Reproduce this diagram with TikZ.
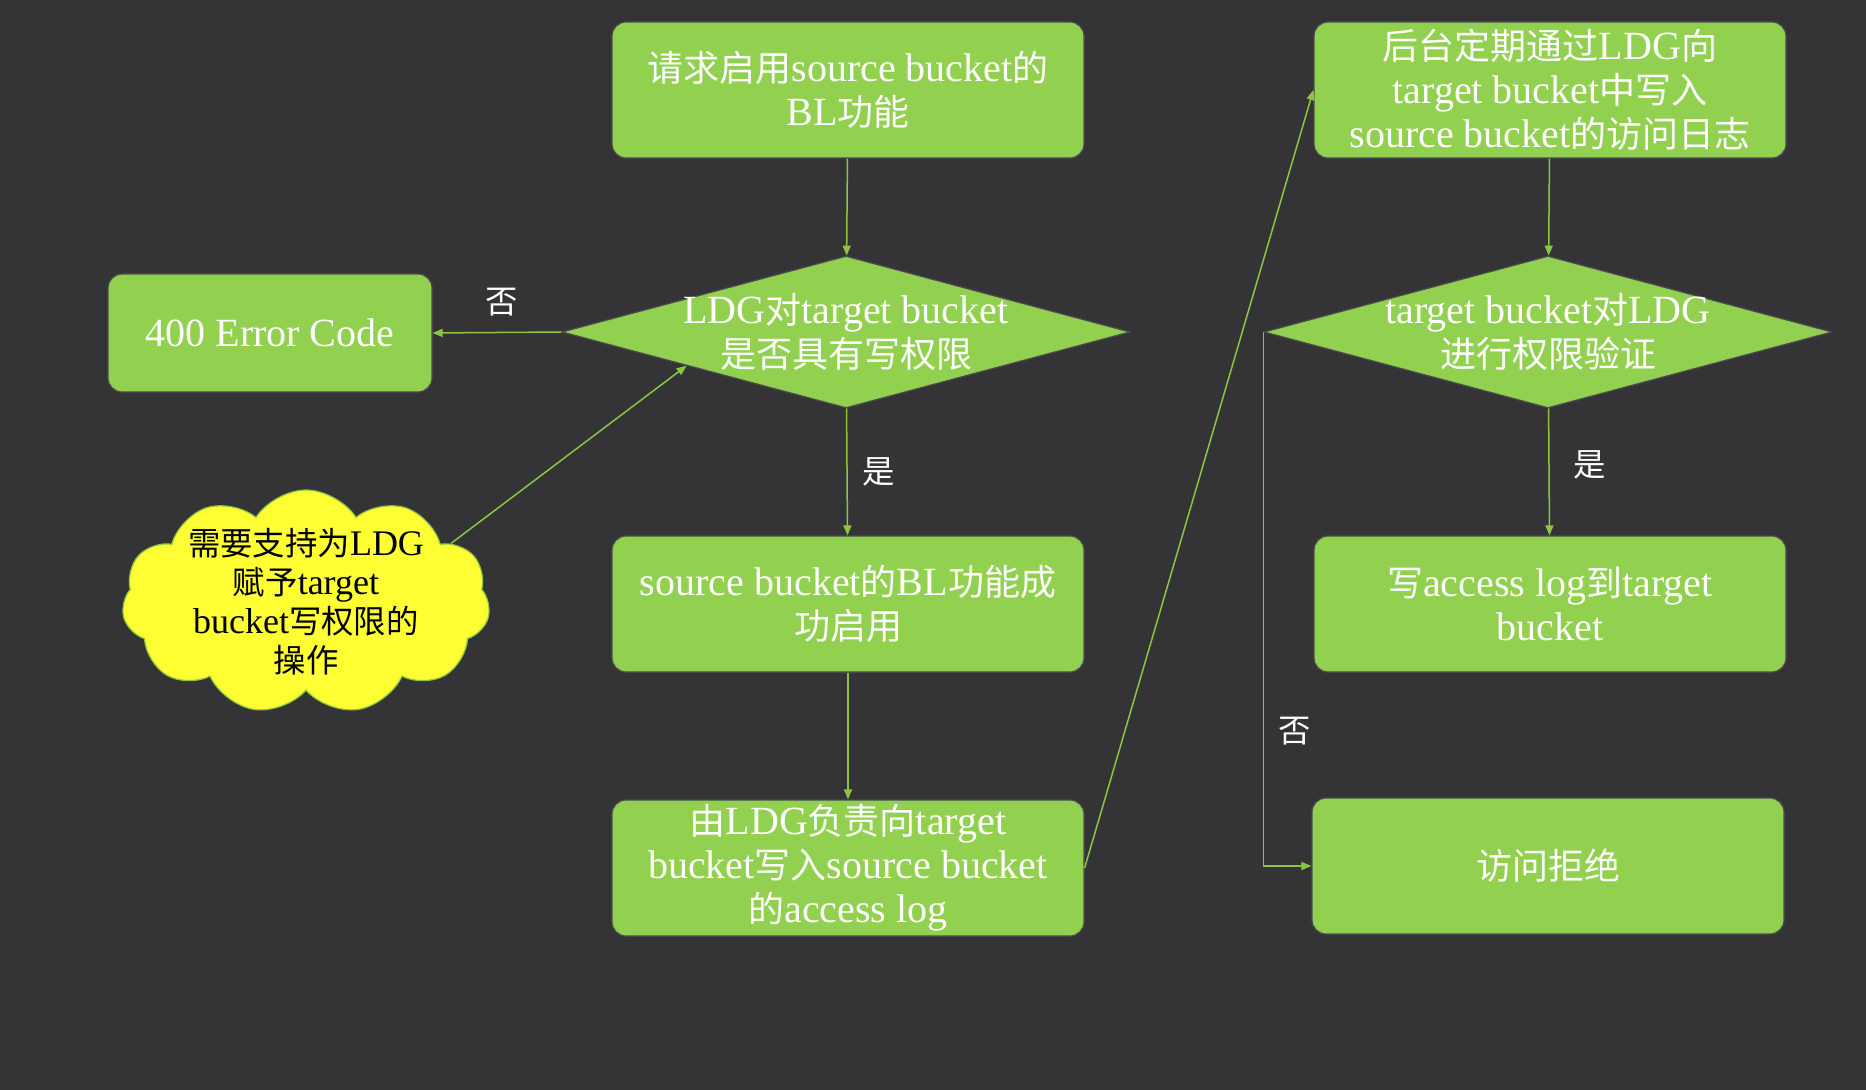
\documentclass[tikz,border=0pt]{standalone}
\usepackage{fontspec}
\setmainfont{Liberation Serif}
\newfontfamily\cjk[Scale=0.9]{Noto Sans CJK SC}
\usetikzlibrary{shapes.geometric,shapes.symbols,arrows.meta,calc}
\definecolor{bggray}{HTML}{343436}
\definecolor{boxgreen}{HTML}{92D050}
\definecolor{linegreen}{HTML}{8CC63F}
\definecolor{edgegray}{HTML}{4C4C4E}
\definecolor{cloudyellow}{HTML}{FFFF33}
\newcommand{\zh}[1]{{\cjk #1}}
\begin{document}
\begin{tikzpicture}[x=0.5pt,y=-0.5pt]
    \tikzstyle{every node}+=[inner sep=0pt, font=\fontsize{20}{22}\selectfont]
    \tikzstyle{stepbox}=[draw=edgegray, line width=0.6pt, fill=boxgreen, rounded corners=7pt, minimum width=236pt, minimum height=68pt, text=white, align=center]
    \tikzstyle{decision}=[diamond, draw=edgegray, line width=0.6pt, fill=boxgreen, minimum width=284pt, minimum height=76pt]
    \tikzstyle{dtext}=[text=white, align=center]
    \tikzstyle{note}=[cloud, cloud puffs=11, cloud puff arc=115, draw=linegreen, line width=0.6pt, fill=cloudyellow, minimum width=184pt, minimum height=112pt]
    \tikzstyle{notetext}=[text=black, align=center, font=\fontsize{18}{19.5}\selectfont]
    \tikzstyle{lbl}=[text=white, font=\fontsize{18}{19}\selectfont]
    \tikzstyle{arrow}=[draw=linegreen, line width=0.75pt, -{Triangle[length=5pt,width=4pt]}]
    \fill [bggray] (0,0) rectangle (1866,1090);
    \node [stepbox] (enable) at (848,90) {\zh{请求启用}source bucket\zh{的}\\BL\zh{功能}};
    \node [decision] (canwrite) at (846,332) {};
    \node [dtext] (canwritetext) at (canwrite) {LDG\zh{对}target bucket\\\zh{是否具有写权限}};
    \node [stepbox, minimum width=162pt, minimum height=59pt] (error) at (270,333) {400 Error Code};
    \node [note] (cloud) at (306,602) {};
    \node [notetext] (cloudtext) at (cloud) {\zh{需要支持为}LDG\\\zh{赋予}target\\bucket\zh{写权限的}\\\zh{操作}};
    \node [stepbox] (enabled) at (848,604) {source bucket\zh{的}BL\zh{功能成}\\\zh{功启用}};
    \node [stepbox] (ldgwrite) at (848,868) {\zh{由}LDG\zh{负责向}target\\bucket\zh{写入}source bucket\\\zh{的}access log};
    \node [stepbox] (periodic) at (1550,90) {\zh{后台定期通过}LDG\zh{向}\\target bucket\zh{中写入}\\source bucket\zh{的访问日志}};
    \node [decision] (verify) at (1548,332) {};
    \node [dtext] (verifytext) at (verify) {target bucket\zh{对}LDG\\\zh{进行权限验证}};
    \node [stepbox] (writelog) at (1550,604) {\zh{写}access log\zh{到}target\\bucket};
    \node [stepbox] (denied) at (1548,866) {\zh{访问拒绝}};
    \node [lbl] (no1) at (502,302) {\zh{否}};
    \node [lbl] (yes1) at (879,472) {\zh{是}};
    \node [lbl] (yes2) at (1590,465) {\zh{是}};
    \node [lbl] (no2) at (1295,731) {\zh{否}};
    \draw [arrow] (enable) -- (canwrite);
    \draw [arrow] (canwrite.west) -- (error.east);
    \draw [arrow] (canwrite) -- (enabled);
    \draw [arrow] (enabled) -- (ldgwrite);
    \draw [arrow] (ldgwrite.east) -- (periodic.west);
    \draw [arrow] (periodic) -- (verify);
    \draw [arrow] (verify) -- (writelog);
    \draw [arrow] (verify.west) |- (denied.west);
    \draw [arrow] (cloud.22) -- ($(canwrite.west)!0.44!(canwrite.south)$);
\end{tikzpicture}
\end{document}
